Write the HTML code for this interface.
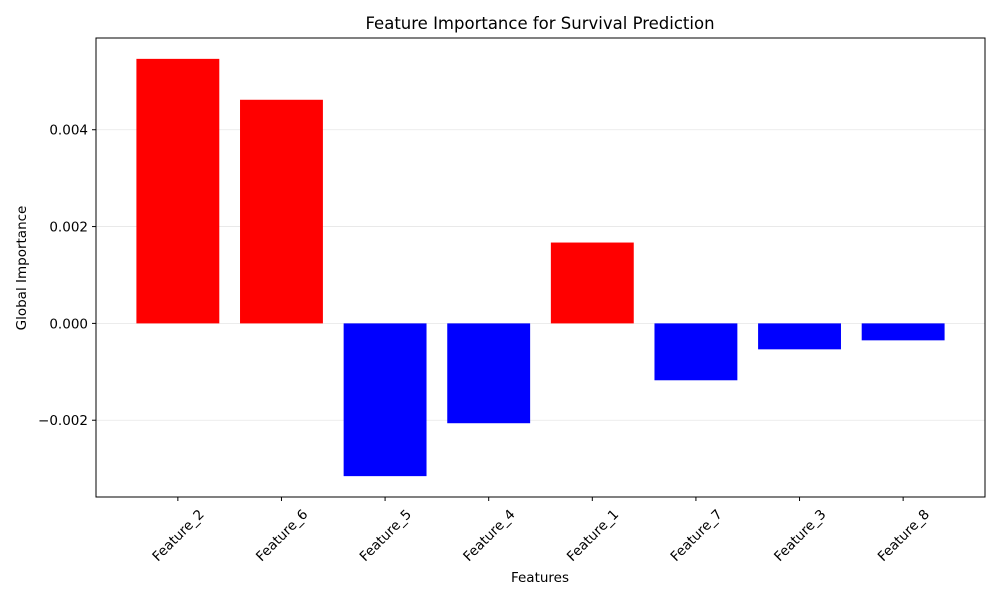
<!DOCTYPE html>
<html><head><meta charset="utf-8"><style>body{margin:0;background:#fff}svg{display:block;font-family:"DejaVu Sans","Liberation Sans",sans-serif}</style></head>
<body>
<svg id="chart" width="1000" height="600">
<rect width="1000" height="600" fill="#fff"/>
<text x="540" y="29" text-anchor="middle" font-size="16.5">Feature Importance for Survival Prediction</text>
<g id="grid"></g><g id="bars"></g><g id="axes"></g>
<text x="540" y="582" text-anchor="middle" font-size="13.5">Features</text>
<text transform="translate(26,268) rotate(-90)" text-anchor="middle" font-size="13.5">Global Importance</text>
</svg>
<script>
const categories=["Feature_2","Feature_6","Feature_5","Feature_4","Feature_1","Feature_7","Feature_3","Feature_8"];
const values=[0.005464,0.004619,-0.003155,-0.002062,0.00167,-0.001175,-0.000536,-0.00035];
const yTicks=[-0.002,0,0.002,0.004];
const yTickLabels=["\u22120.002","0.000","0.002","0.004"];
const NS="http://www.w3.org/2000/svg";
const L=96,R=985,T=38,B=497;
const n=categories.length;
const xmin=-0.4-0.05*(n-1+0.8),xmax=n-1+0.4+0.05*(n-1+0.8);
const dmin=Math.min(0,...values),dmax=Math.max(0,...values),m=(dmax-dmin)*0.05;
const ymin=dmin-m,ymax=dmax+m;
const xs=v=>L+(v-xmin)/(xmax-xmin)*(R-L);
const ys=v=>B-(v-ymin)/(ymax-ymin)*(B-T);
function el(t,a,p){const e=document.createElementNS(NS,t);for(const k in a)e.setAttribute(k,a[k]);p.appendChild(e);return e;}
const grid=document.getElementById('grid'),bars=document.getElementById('bars'),axes=document.getElementById('axes');
yTicks.forEach((t,i)=>{const y=ys(t);
const g=el('line',{x1:L,x2:R,y1:y,y2:y,stroke:'#e6e6e6','stroke-width':0.8},grid);


const tk=el('line',{x1:L-4,x2:L,y1:y,y2:y,stroke:'#000'},axes);


const tx=el('text',{x:L-8,y:y+5,'text-anchor':'end','font-size':13.5},axes);tx.textContent=yTickLabels[i];


});
categories.forEach((c,i)=>{const v=values[i];const x0=xs(i-0.4),x1=xs(i+0.4);const y0=ys(Math.max(v,0)),y1=ys(Math.min(v,0));
const b=el('rect',{x:x0,y:y0,width:x1-x0,height:y1-y0,fill:v>=0?'#ff0000':'#0000ff'},bars);


const cx=xs(i);
const tk=el('line',{x1:cx,x2:cx,y1:B,y2:B+4,stroke:'#000'},axes);


const tx=el('text',{x:cx,y:B+43,'text-anchor':'middle','font-size':13.5,transform:`rotate(-45 ${cx} ${B+38})`},axes);tx.textContent=c;


});
const fr=el('rect',{x:L,y:T,width:R-L,height:B-T,fill:'none',stroke:'#000','stroke-width':1},axes);


</script>
</body></html>
